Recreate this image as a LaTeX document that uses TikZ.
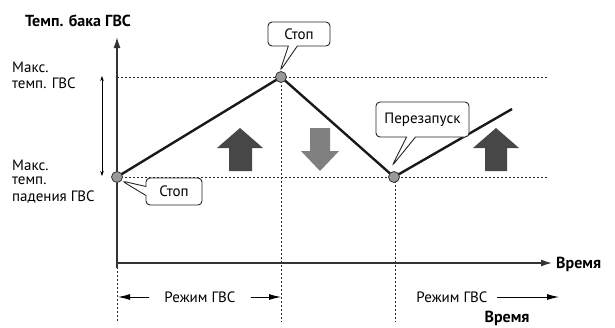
\documentclass[tikz,border=0pt]{standalone}
\usepackage{fontspec}
\setmainfont{PT Sans}
\usetikzlibrary{shapes.callouts,arrows.meta}
\tikzset{
  pt/.style={circle,draw=black!80,fill=black!40,line width=0.8pt,minimum size=11pt,inner sep=0pt},
  lbl/.style={font=\fontsize{15}{16.5}\selectfont,inner sep=0pt},
  blbl/.style={font=\fontsize{16}{17}\selectfont\bfseries,inner sep=0pt},
  dots/.style={line width=0.9pt,dash pattern=on 2.2pt off 1.8pt,black!85},
  axis/.style={line width=1.4pt,black!80,-{Latex[length=11pt,width=7pt]}},
  mainline/.style={line width=2.4pt,black!90},
  callbox/.style={rectangle callout,rounded corners=4pt,draw=black!85,fill=white,line width=0.9pt,
    font=\fontsize{15}{16}\selectfont,inner sep=0pt,callout pointer width=9pt},
  modearrow/.style={line width=0.9pt,-{Latex[length=12pt,width=6pt]}},
  dkarrow/.style={fill=black!72,draw=none},
  ltarrow/.style={fill=black!50,draw=none},
}
\begin{document}
\begin{tikzpicture}[x=1pt,y=-1pt]
\useasboundingbox (0,0) rectangle (615,327);
% coordinates
\coordinate (O) at (117,263);
\coordinate (Ytop) at (117,37);
\coordinate (Xend) at (552,263);
\coordinate (TopR) at (547,77);
\coordinate (BotR) at (547,177);
\coordinate (D) at (512,109);
\coordinate (Obot) at (117,322);
\coordinate (Bbot) at (281,322);
\coordinate (Cbot) at (395,322);
% dotted guides
\draw[dots] (117,77) -- (TopR);
\draw[dots] (117,177) -- (BotR);
\draw[dots] (281,77) -- (Bbot);
\draw[dots] (395,177) -- (Cbot);
\draw[dots] (O) -- (Obot);
% axes
\draw[axis] (117,268) -- (Ytop);
\draw[axis] (O) -- (Xend);
% block arrows
\fill[dkarrow] (229,171) -- (229,148) -- (217,148) -- (240,128) -- (263,148) -- (252,148) -- (252,171) -- cycle;
\fill[ltarrow] (310,128) -- (330,128) -- (330,151) -- (339,151) -- (320,171) -- (301,151) -- (310,151) -- cycle;
\fill[dkarrow] (485,171) -- (485,148) -- (473,148) -- (496,128) -- (519,148) -- (507,148) -- (507,171) -- cycle;
% main curve points
\coordinate (Ac) at (117,177);
\coordinate (Bc) at (281,77);
\coordinate (Cc) at (394,177);
\draw[mainline,line join=round] (Ac) -- (Bc) -- (Cc) -- (D);
\node[pt] (A) at (Ac) {};
\node[pt] (B) at (Bc) {};
\node[pt] (C) at (Cc) {};
% callouts
\node[callbox,minimum width=62pt,minimum height=24pt,callout absolute pointer={(280,71)}] (stop1) at (299,34) {Стоп};
\node[callbox,minimum width=56pt,minimum height=27pt,callout absolute pointer={(122,181)}] (stop2) at (174,191.5) {Стоп};
\node[callbox,minimum width=93pt,minimum height=35pt,callout absolute pointer={(392,166)}] (restart) at (422.5,119.5) {Перезапуск};
% double arrow
\coordinate (da1) at (102,76);
\coordinate (da2) at (102,176);
\draw[line width=0.6pt,{Stealth[length=5pt,width=3.5pt]}-{Stealth[length=5pt,width=3.5pt]}] (da1) -- (da2);
% labels
\node[blbl,anchor=west] (title) at (25,21) {Темп. бака ГВС};
\node[lbl,anchor=west] (maxT1) at (12,67) {Макс.};
\node[lbl,anchor=west] (maxT2) at (12,83) {темп. ГВС};
\node[lbl,anchor=west] (minT1) at (12,165) {Макс.};
\node[lbl,anchor=west] (minT2) at (12,181) {темп.};
\node[lbl,anchor=west] (minT3) at (12,197) {падения ГВС};
\node[blbl,anchor=west] (time1) at (556,264) {Время};
\node[blbl] (time2) at (507,318) {Время};
% mode labels
\node[lbl] (mode1) at (200,297) {Режим ГВС};
\node[lbl] (mode2) at (452,297) {Режим ГВС};
\coordinate (m1l) at (118,297);
\coordinate (m1r) at (281,297);
\coordinate (m2r) at (559,297);
\draw[modearrow] (mode1.west) ++(-15,0) -- (m1l);
\draw[modearrow] (mode1.east) ++(15,0) -- (m1r);
\draw[modearrow] (mode2.east) ++(9,0) -- (m2r);
\end{tikzpicture}
\end{document}
